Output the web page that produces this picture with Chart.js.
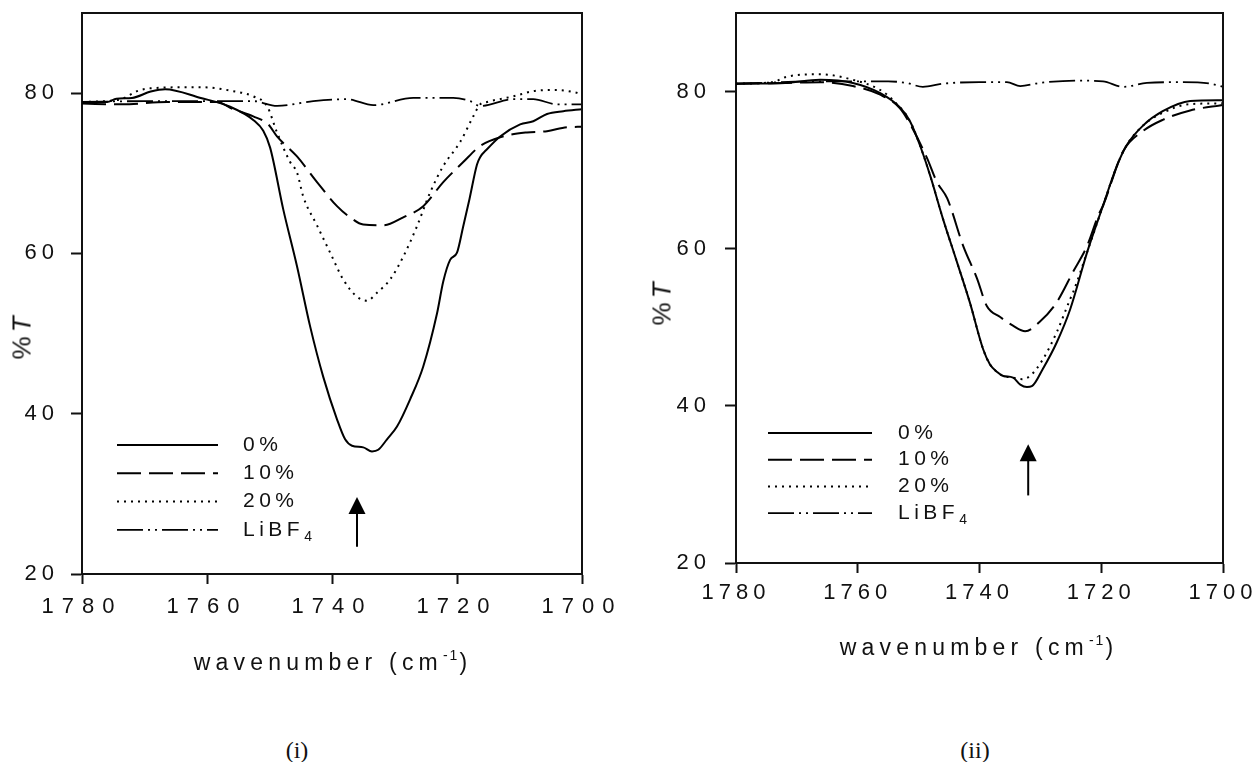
<!DOCTYPE html>
<html>
<head>
<meta charset="utf-8">
<script src="https://cdn.jsdelivr.net/npm/chart.js@4/dist/chart.umd.min.js"></script>
<style>
  body { margin: 0; background: #fff; width: 1255px; height: 762px; position: relative; overflow: hidden;
         font-family: "Liberation Sans", Arial, sans-serif; color: #111; }
  canvas { position: absolute; top: 0; }
  .t { position: absolute; white-space: nowrap; transform: translate(-50%, -50%); }
  .ylab { font-size: 26px; letter-spacing: 4px; transform: translate(-50%, -50%) rotate(-90deg); }
  .xlab { font-size: 23px; letter-spacing: 5.2px; }
  .xlab sup { font-size: 14px; vertical-align: 10px; letter-spacing: 2px; }
  .cap { font-family: "Liberation Serif", "Times New Roman", serif; font-size: 24px; }
</style>
</head>
<body>
<canvas id="panelI" width="620" height="700" style="left:0"></canvas>
<canvas id="panelII" width="635" height="700" style="left:620px"></canvas>

<div class="t ylab" style="left:22px; top:336px">%<i>T</i></div>
<div class="t ylab" style="left:662px; top:302px">%<i>T</i></div>
<div class="t xlab" style="left:333px; top:661px">wavenumber (cm<sup>-1</sup>)</div>
<div class="t xlab" style="left:979px; top:646px">wavenumber (cm<sup>-1</sup>)</div>
<div class="t cap" style="left:297px; top:750px">(i)</div>
<div class="t cap" style="left:975px; top:750px">(ii)</div>

<script>
/* ===================== DATOS ===================== */
const xTicks = [1780, 1760, 1740, 1720, 1700];
const yTicks = [20, 40, 60, 80];
const seriesLabels = ["0%", "10%", "20%", "LiBF4"];

// panel (i)
const waveI_0 = [1780, 1776, 1774.5, 1772, 1769, 1766.7, 1761, 1756.3, 1752.5, 1751, 1749.9, 1747.8, 1745.6, 1743.5, 1741.4, 1739.2, 1737.9, 1736.8, 1735, 1733.6, 1732.6, 1731.2, 1729.6, 1727.5, 1725.4, 1723.2, 1722.2, 1721.1, 1720, 1719, 1718, 1716.8, 1716.3, 1715.2, 1713.1, 1709.9, 1707.8, 1705.6, 1703, 1700];
const tI_0 = [78.9, 78.9, 79.3, 79.4, 80.2, 80.5, 79.4, 78.3, 76.6, 75.3, 73.2, 65.5, 58.4, 50.9, 44.6, 39.3, 36.8, 36.0, 35.8, 35.3, 35.5, 36.8, 38.4, 41.8, 45.9, 52.5, 56.5, 59.2, 60.1, 63.4, 66.8, 71.1, 72, 73, 74.6, 76.1, 76.5, 77.4, 77.75, 78];

const waveI_10 = [1780, 1773.6, 1766.4, 1758.4, 1755.8, 1752.6, 1750.2, 1748.8, 1745.6, 1742.4, 1739.2, 1737.1, 1735, 1731.8, 1728.6, 1725.4, 1722.2, 1719, 1716.3, 1713.1, 1708.8, 1705.6, 1702.4, 1700];
const tI_10 = [78.7, 78.6, 78.9, 78.9, 78, 77.1, 76.1, 74.6, 72.1, 68.9, 65.9, 64.5, 63.6, 63.5, 64.5, 65.9, 68.9, 71.4, 73.4, 74.5, 75.1, 75.25, 75.75, 75.8];

const waveI_20 = [1780, 1774, 1771, 1769.1, 1761.1, 1755.8, 1752.6, 1750.4, 1748.8, 1746.7, 1745.6, 1744.6, 1742.4, 1740.3, 1738.2, 1736, 1734.4, 1732.8, 1730.7, 1728.6, 1726.4, 1724.3, 1722.2, 1719.5, 1717.4, 1716.3, 1715.2, 1711, 1707.8, 1704, 1701.1, 1700];
const tI_20 = [78.9, 79.2, 80.3, 80.6, 80.75, 80.25, 79.6, 78.4, 75.1, 71.4, 70.1, 67.1, 63.5, 60.1, 56.75, 54.6, 54.1, 55.1, 56.75, 59.6, 63.4, 67.6, 70.9, 73.9, 77.1, 78.6, 78.9, 79.6, 80.25, 80.4, 80.1, 79.9];

const waveI_Li = [1780, 1770, 1761, 1752.6, 1748.8, 1743, 1737.6, 1733.4, 1727, 1720.6, 1717.9, 1716.3, 1711, 1707.8, 1704, 1700];
const tI_Li = [78.9, 79, 79, 79, 78.4, 79, 79.25, 78.5, 79.4, 79.4, 79, 78.4, 79.25, 79.25, 78.6, 78.6];

// panel (ii)
const waveII_0 = [1780, 1772, 1766.2, 1760.8, 1756.3, 1753.1, 1751.4, 1749.8, 1748.1, 1746, 1743.7, 1741.6, 1739.4, 1738.3, 1737.1, 1736.1, 1734.5, 1733.3, 1732.2, 1731.4, 1729.6, 1727.3, 1725.1, 1722.3, 1719.7, 1717.4, 1715.8, 1713.1, 1709.9, 1705.4, 1700];
const tII_0 = [81.0, 81.1, 81.5, 81.1, 79.8, 78.0, 76.2, 73.2, 69.3, 63.8, 58.3, 53.2, 47.2, 45.3, 44.3, 43.8, 43.6, 42.7, 42.4, 42.5, 44.7, 48.1, 52.3, 59.6, 65.5, 70.6, 73.2, 75.7, 77.5, 78.8, 78.9];

const waveII_10 = [1780, 1771.6, 1766.2, 1760.8, 1756.3, 1753.1, 1751, 1748.6, 1747, 1745.3, 1742.7, 1740.4, 1738.8, 1736.6, 1734.5, 1732.5, 1730.1, 1727.3, 1724.6, 1722.3, 1720.5, 1719.7, 1716.4, 1713.1, 1709.9, 1705.4, 1700];
const tII_10 = [81.0, 81.1, 81.2, 80.7, 79.6, 77.9, 75.3, 71.5, 68.5, 66.4, 60.4, 56.2, 52.7, 51.3, 50.2, 49.5, 50.7, 53.2, 57.1, 60.4, 64.2, 65.5, 72.4, 75.0, 76.4, 77.6, 78.3];

const waveII_20 = [1780, 1774, 1771.6, 1766.2, 1760.8, 1756.3, 1754.2, 1751.4, 1749.8, 1748.1, 1746, 1743.7, 1741.6, 1739.4, 1738.3, 1737.1, 1736.1, 1734.5, 1733, 1731.7, 1729.6, 1727.3, 1725.1, 1724.6, 1722.3, 1719.7, 1717.4, 1715.8, 1713.1, 1709.9, 1705.4, 1700];
const tII_20 = [81.0, 81.2, 81.9, 82.2, 81.5, 80.2, 78.9, 76.2, 73.2, 69.3, 63.8, 58.3, 53.2, 47.2, 45.3, 44.3, 43.8, 43.6, 43.4, 43.8, 45.9, 49.4, 53.6, 54.5, 59.6, 65.5, 70.6, 73.2, 75.7, 77.3, 78.4, 78.5];

const waveII_Li = [1780, 1766.2, 1755, 1752, 1749.3, 1746, 1740, 1735.5, 1733.3, 1730.1, 1724, 1719.7, 1716.4, 1712.5, 1707, 1702, 1700];
const tII_Li = [81.0, 81.3, 81.3, 81.1, 80.6, 81.0, 81.2, 81.2, 80.7, 81.1, 81.4, 81.3, 80.6, 81.1, 81.2, 81.0, 80.6];

// flechas (número de onda, base y punta en %T)
const arrowWave = [1736, 1732];
const arrowBase = [23.4, 28.6];
const arrowTip = [29.6, 35.1];

/* ===================== ESTILOS ===================== */
const dashes = [[], [24, 8], [2, 5], [26, 5, 2, 5, 2, 5]];
const anchos = [2, 2, 2, 1.8];
const FONT = '"Liberation Sans", Arial, sans-serif';

/* ===================== PLUGINS ===================== */
const marco = {
  id: "marco",
  afterDraw(chart) {
    const { ctx, chartArea: a } = chart;
    ctx.save();
    ctx.strokeStyle = "#111";
    ctx.lineWidth = 2;
    ctx.beginPath();
    ctx.moveTo(a.left - 1, a.top);
    ctx.lineTo(a.right, a.top);
    ctx.lineTo(a.right, a.bottom + 1);
    ctx.stroke();
    ctx.restore();
  },
};

const leyenda = {
  id: "leyenda",
  afterDatasetsDraw(chart, args, o) {
    const { ctx, chartArea: a } = chart;
    chart.data.datasets.forEach((ds, i) => {
      const y = a.bottom - o.bottom + i * o.row;
      const x0 = a.left + o.left;
      ctx.save();
      ctx.strokeStyle = "#000";
      ctx.lineWidth = ds.borderWidth;
      ctx.setLineDash(ds.borderDash);
      ctx.beginPath();
      ctx.moveTo(x0, y);
      ctx.lineTo(x0 + o.len, y);
      ctx.stroke();
      ctx.setLineDash([]);
      ctx.fillStyle = "#111";
      ctx.textBaseline = "middle";
      ctx.letterSpacing = o.spacing + "px";
      ctx.font = o.size + "px " + FONT;
      const m = ds.label.match(/^(.*[A-Za-z])(\d+)$/);
      const txt = m ? m[1] : ds.label;
      const tx = x0 + o.len + o.gap;
      ctx.fillText(txt, tx, y);
      if (m) {
        const w = ctx.measureText(txt).width;
        ctx.font = Math.round(o.size * 0.65) + "px " + FONT;
        ctx.fillText(m[2], tx + w, y + 7);
      }
      ctx.restore();
    });
  },
};

const flecha = {
  id: "flecha",
  afterDatasetsDraw(chart, args, o) {
    const { ctx, scales } = chart;
    const px = scales.x.getPixelForValue(o.wave);
    const top = scales.y.getPixelForValue(o.tip);
    const bot = scales.y.getPixelForValue(o.base);
    ctx.save();
    ctx.strokeStyle = ctx.fillStyle = "#000";
    ctx.lineWidth = 2;
    ctx.beginPath();
    ctx.moveTo(px, bot);
    ctx.lineTo(px, top + 15);
    ctx.stroke();
    ctx.beginPath();
    ctx.moveTo(px, top);
    ctx.lineTo(px - 8.5, top + 17);
    ctx.lineTo(px + 8.5, top + 17);
    ctx.closePath();
    ctx.fill();
    ctx.restore();
  },
};

/* ===================== UTIL ===================== */
function serie(wave, t, i) {
  return {
    label: seriesLabels[i],
    data: wave.map((w, k) => ({ x: w, y: t[k] })),
    borderColor: "#000",
    borderWidth: anchos[i],
    borderDash: dashes[i],
    pointRadius: 0,
    cubicInterpolationMode: "monotone",
    fill: false,
  };
}

// espaciado de letras propio de cada eje
function espaciar(s, px) {
  if (s._esp) return;
  const orig = s.drawLabels;
  s.drawLabels = function (area) {
    this.ctx.save();
    this.ctx.letterSpacing = px + "px";
    orig.call(this, area);
    this.ctx.restore();
  };
  s._esp = true;
}

function crearPanel(id, series, p) {
  const canvas = document.getElementById(id);
  return new Chart(canvas, {
    type: "line",
    data: { datasets: series },
    plugins: [marco, leyenda, flecha],
    options: {
      responsive: false,
      animation: false,
      layout: { padding: { top: 13, right: p.right, left: 0, bottom: 0 } },
      scales: {
        x: {
          type: "linear",
          min: 1700,
          max: 1780,
          reverse: true,
          afterBuildTicks: (s) => { s.ticks = xTicks.map((v) => ({ value: v })); },
          afterFit: (s) => {
            s.height = canvas.height - p.bottom;
            s.paddingLeft = 0;
            s.paddingRight = 0;
            espaciar(s, p.xSpacing);
          },
          grid: { drawOnChartArea: false, drawTicks: true, tickLength: 10, tickWidth: 2, tickColor: "#111" },
          border: { display: true, color: "#111", width: 2 },
          ticks: {
            color: "#111",
            font: { family: FONT, size: p.xSize },
            padding: p.xPad,
            maxRotation: 0,
            autoSkip: false,
            callback: (v) => String(v),
          },
        },
        y: {
          type: "linear",
          min: 20,
          max: 90,
          afterBuildTicks: (s) => { s.ticks = yTicks.map((v) => ({ value: v })); },
          afterFit: (s) => {
            s.width = p.left;
            s.paddingTop = 0;
            s.paddingBottom = 0;
            espaciar(s, p.ySpacing);
          },
          grid: { drawOnChartArea: false, drawTicks: true, tickLength: 11, tickWidth: 2, tickColor: "#111" },
          border: { display: true, color: "#111", width: 2 },
          ticks: {
            color: "#111",
            font: { family: FONT, size: p.ySize },
            padding: p.yPad,
            callback: (v) => String(v),
          },
        },
      },
      plugins: {
        legend: { display: false },
        tooltip: { enabled: false },
        leyenda: p.leyenda,
        flecha: p.flecha,
      },
    },
  });
}

/* ===================== PANELES ===================== */
crearPanel(
  "panelI",
  [
    serie(waveI_0, tI_0, 0),
    serie(waveI_10, tI_10, 1),
    serie(waveI_20, tI_20, 2),
    serie(waveI_Li, tI_Li, 3),
  ],
  {
    left: 82, right: 38, bottom: 574,
    xSize: 22, xPad: 10, xSpacing: 8,
    ySize: 22, yPad: 12, ySpacing: 5,
    leyenda: { left: 35, len: 101, gap: 25, bottom: 129, row: 28.3, size: 21, spacing: 4.5 },
    flecha: { wave: arrowWave[0], base: arrowBase[0], tip: arrowTip[0] },
  }
);

crearPanel(
  "panelII",
  [
    serie(waveII_0, tII_0, 0),
    serie(waveII_10, tII_10, 1),
    serie(waveII_20, tII_20, 2),
    serie(waveII_Li, tII_Li, 3),
  ],
  {
    left: 116, right: 32, bottom: 563,
    xSize: 22, xPad: 7, xSpacing: 5,
    ySize: 22, yPad: 14, ySpacing: 5,
    leyenda: { left: 32, len: 104, gap: 26, bottom: 130, row: 26.7, size: 21, spacing: 4.5 },
    flecha: { wave: arrowWave[1], base: arrowBase[1], tip: arrowTip[1] },
  }
);
</script>
</body>
</html>
